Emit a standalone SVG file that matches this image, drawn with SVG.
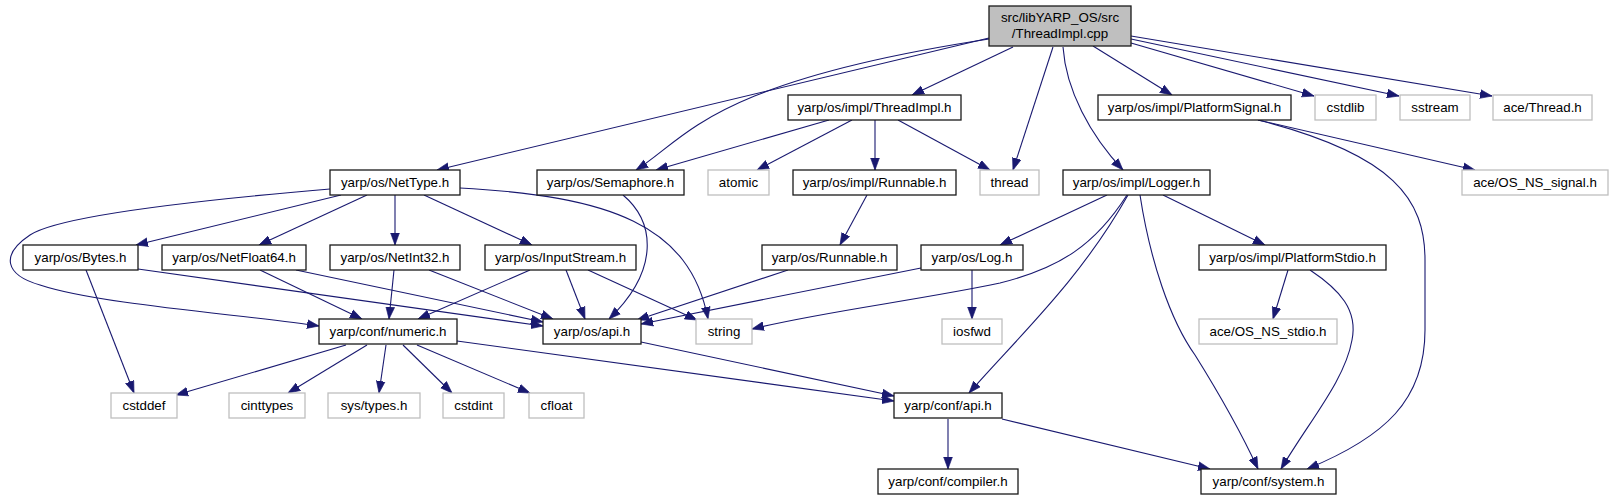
<svg xmlns="http://www.w3.org/2000/svg" width="1612" height="500" viewBox="0 0 1612 500">
<style>
.n rect{fill:#ffffff;stroke:#1a1a1a;stroke-width:1.3}
.g rect{fill:#ffffff;stroke:#bfbfbf;stroke-width:1.3}
.r rect{fill:#bfbfbf;stroke:#1a1a1a;stroke-width:1.3}
text{font-family:"Liberation Sans",Arial,Helvetica,sans-serif;font-size:13.33px;fill:#000000;text-anchor:middle}
#edges path{fill:none;stroke:#191970;stroke-width:1.1;marker-end:url(#ah)}
</style>
<defs>
<marker id="ah" markerUnits="userSpaceOnUse" markerWidth="12" markerHeight="10" viewBox="0 0 11 8" refX="11" refY="4" orient="auto">
<path d="M0,0 L11,4 L0,8 z" fill="#191970" stroke="#191970" stroke-width="0.6"/>
</marker>
</defs>
<rect width="1612" height="500" fill="#ffffff"/>
<g id="edges">
<path d="M989,38 L437,170"/>
<path d="M989,39 C709,82 687,138 636,170"/>
<path d="M1013,47 L912,95"/>
<path d="M1053,47 L1013,170"/>
<path d="M1063,47 C1066,90 1090,135 1123,170"/>
<path d="M1093,46 L1172,95"/>
<path d="M1131,43 L1314,96"/>
<path d="M1131,39 L1399,96"/>
<path d="M1131,36 L1492,96"/>
<path d="M829,120 L656,170"/>
<path d="M852,120 L757,170"/>
<path d="M875,120 L875,170"/>
<path d="M898,120 L990,170"/>
<path d="M1258,120 L1475,170"/>
<path d="M1258,120 C1395,155 1425,200 1425,260 L1425,330 C1425,400 1385,437 1307,469"/>
<path d="M341,195 L136,245"/>
<path d="M367,195 L259,245"/>
<path d="M395,195 L395,245"/>
<path d="M424,195 L532,245"/>
<path d="M460,188 C610,196 690,225 708,319"/>
<path d="M330,189 C200,200 60,215 30,235 C0,255 5,275 40,285 C100,305 250,315 319,326"/>
<path d="M623,195 C655,222 660,270 609,319"/>
<path d="M867,195 L840,245"/>
<path d="M1107,195 L1000,245"/>
<path d="M1127,195 C1095,245 1060,268 1000,283 C920,300 820,312 752,329"/>
<path d="M1128,195 C1080,280 1020,335 969,393"/>
<path d="M1140,195 C1150,260 1170,320 1195,355 C1220,395 1240,430 1258,469"/>
<path d="M1163,195 L1265,245"/>
<path d="M86,270 L134,393"/>
<path d="M138,269 L543,326"/>
<path d="M260,270 L362,319"/>
<path d="M296,270 L543,322"/>
<path d="M394,270 L389,319"/>
<path d="M429,270 L553,319"/>
<path d="M530,270 L418,319"/>
<path d="M566,270 L585,319"/>
<path d="M588,270 L697,320"/>
<path d="M788,270 L637,320"/>
<path d="M921,268 L641,324"/>
<path d="M972,270 L972,319"/>
<path d="M346,345 L176,395"/>
<path d="M367,345 L288,393"/>
<path d="M386,345 L379,393"/>
<path d="M403,345 L452,393"/>
<path d="M417,345 L530,393"/>
<path d="M457,341 L894,401"/>
<path d="M641,342 L894,396"/>
<path d="M948,419 L948,469"/>
<path d="M1002,419 L1210,469"/>
<path d="M1288,270 L1273,319"/>
<path d="M1310,270 C1340,290 1358,310 1352,340 C1345,380 1310,420 1281,469"/>
</g>
<g id="root" class="r"><rect x="989" y="6" width="142" height="40"/><text x="1060" y="22">src/libYARP_OS/src</text><text x="1060" y="38">/ThreadImpl.cpp</text></g>
<g id="NetType" class="n"><rect x="330" y="170" width="130" height="25"/><text x="395" y="187">yarp/os/NetType.h</text></g>
<g id="Semaphore" class="n"><rect x="537" y="170" width="147" height="25"/><text x="610.5" y="187">yarp/os/Semaphore.h</text></g>
<g id="ThreadImplH" class="n"><rect x="788" y="95" width="173" height="25"/><text x="874.5" y="112">yarp/os/impl/ThreadImpl.h</text></g>
<g id="atomic" class="g"><rect x="708" y="170" width="61" height="25"/><text x="738.5" y="187">atomic</text></g>
<g id="RunnableImpl" class="n"><rect x="793" y="170" width="163" height="25"/><text x="874.5" y="187">yarp/os/impl/Runnable.h</text></g>
<g id="thread" class="g"><rect x="980" y="170" width="59" height="25"/><text x="1009.5" y="187">thread</text></g>
<g id="Logger" class="n"><rect x="1063" y="170" width="147" height="25"/><text x="1136.5" y="187">yarp/os/impl/Logger.h</text></g>
<g id="PlatformSignal" class="n"><rect x="1098" y="95" width="193" height="25"/><text x="1194.5" y="112">yarp/os/impl/PlatformSignal.h</text></g>
<g id="cstdlib" class="g"><rect x="1315" y="95" width="61" height="25"/><text x="1345.5" y="112">cstdlib</text></g>
<g id="sstream" class="g"><rect x="1400" y="95" width="70" height="25"/><text x="1435" y="112">sstream</text></g>
<g id="aceThread" class="g"><rect x="1493" y="95" width="99" height="25"/><text x="1542.5" y="112">ace/Thread.h</text></g>
<g id="OS_NS_signal" class="g"><rect x="1462" y="170" width="146" height="25"/><text x="1535" y="187">ace/OS_NS_signal.h</text></g>
<g id="Bytes" class="n"><rect x="23" y="245" width="115" height="25"/><text x="80.5" y="262">yarp/os/Bytes.h</text></g>
<g id="NetFloat64" class="n"><rect x="162" y="245" width="144" height="25"/><text x="234" y="262">yarp/os/NetFloat64.h</text></g>
<g id="NetInt32" class="n"><rect x="330" y="245" width="130" height="25"/><text x="395" y="262">yarp/os/NetInt32.h</text></g>
<g id="InputStream" class="n"><rect x="485" y="245" width="151" height="25"/><text x="560.5" y="262">yarp/os/InputStream.h</text></g>
<g id="RunnableOs" class="n"><rect x="762" y="245" width="135" height="25"/><text x="829.5" y="262">yarp/os/Runnable.h</text></g>
<g id="Log" class="n"><rect x="921" y="245" width="102" height="25"/><text x="972" y="262">yarp/os/Log.h</text></g>
<g id="PlatformStdio" class="n"><rect x="1199" y="245" width="187" height="25"/><text x="1292.5" y="262">yarp/os/impl/PlatformStdio.h</text></g>
<g id="numeric" class="n"><rect x="319" y="319" width="138" height="25"/><text x="388" y="336">yarp/conf/numeric.h</text></g>
<g id="osApi" class="n"><rect x="543" y="319" width="98" height="25"/><text x="592" y="336">yarp/os/api.h</text></g>
<g id="string" class="g"><rect x="696" y="319" width="56" height="25"/><text x="724" y="336">string</text></g>
<g id="iosfwd" class="g"><rect x="942" y="319" width="60" height="25"/><text x="972" y="336">iosfwd</text></g>
<g id="OS_NS_stdio" class="g"><rect x="1199" y="319" width="138" height="25"/><text x="1268" y="336">ace/OS_NS_stdio.h</text></g>
<g id="cstddef" class="g"><rect x="111" y="393" width="66" height="25"/><text x="144" y="410">cstddef</text></g>
<g id="cinttypes" class="g"><rect x="229" y="393" width="76" height="25"/><text x="267" y="410">cinttypes</text></g>
<g id="systypes" class="g"><rect x="328" y="393" width="92" height="25"/><text x="374" y="410">sys/types.h</text></g>
<g id="cstdint" class="g"><rect x="443" y="393" width="61" height="25"/><text x="473.5" y="410">cstdint</text></g>
<g id="cfloat" class="g"><rect x="529" y="393" width="55" height="25"/><text x="556.5" y="410">cfloat</text></g>
<g id="confApi" class="n"><rect x="894" y="393" width="108" height="25"/><text x="948" y="410">yarp/conf/api.h</text></g>
<g id="compiler" class="n"><rect x="878" y="469" width="140" height="25"/><text x="948" y="486">yarp/conf/compiler.h</text></g>
<g id="system" class="n"><rect x="1201" y="469" width="135" height="25"/><text x="1268.5" y="486">yarp/conf/system.h</text></g>
</svg>
